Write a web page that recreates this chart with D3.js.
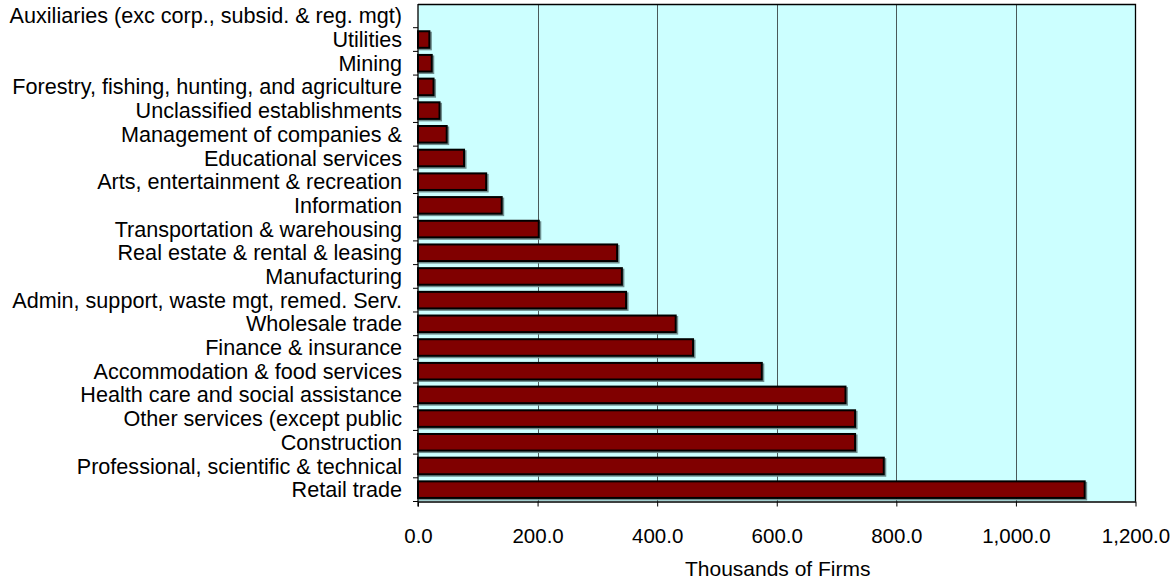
<!DOCTYPE html>
<html>
<head>
<meta charset="utf-8">
<script src="https://cdn.jsdelivr.net/npm/d3@7/dist/d3.min.js"></script>
<style>
  html, body { margin: 0; padding: 0; background: #ffffff; }
  svg { display: block; font-family: "Liberation Sans", Arial, sans-serif; }
</style>
</head>
<body>
<svg id="chart" width="1175" height="582"></svg>
<script>
// Industries, top to bottom
const categories = [
  "Auxiliaries (exc corp., subsid. & reg. mgt)",
  "Utilities",
  "Mining",
  "Forestry, fishing, hunting, and agriculture",
  "Unclassified establishments",
  "Management of companies &",
  "Educational services",
  "Arts, entertainment & recreation",
  "Information",
  "Transportation & warehousing",
  "Real estate & rental & leasing",
  "Manufacturing",
  "Admin, support, waste mgt, remed. Serv.",
  "Wholesale trade",
  "Finance & insurance",
  "Accommodation & food services",
  "Health care and social assistance",
  "Other services (except public",
  "Construction",
  "Professional, scientific & technical",
  "Retail trade"
];

// Number of firms, thousands
const firms = [
  0, 19, 23, 26, 36, 48, 77, 114, 140, 202, 333, 341, 348,
  431, 460, 575, 715, 731, 731, 779, 1115
];

const xTicks = [0, 200, 400, 600, 800, 1000, 1200];
const xTitle = "Thousands of Firms";

const rows = categories.map((c, i) => ({ name: c, value: firms[i] }));

const svg = d3.select("#chart");
const plot = { left: 418, right: 1135.5, top: 4, bottom: 501.5 };
const labelSize = 21.6;
const tickSize = 20.5;
const titleSize = 21;

const x = d3.scaleLinear().domain([0, 1200]).range([plot.left, plot.right]);
const y = d3.scaleBand().domain(categories).range([plot.top, plot.bottom])
  .paddingInner(0.3).paddingOuter(0.15);
const yBand = d3.scaleBand().domain(categories).range([plot.top, plot.bottom]);

// plot background
svg.append("rect")
  .attr("x", plot.left).attr("y", plot.top)
  .attr("width", plot.right - plot.left).attr("height", plot.bottom - plot.top)
  .attr("fill", "#ccffff");

// vertical gridlines
svg.append("g").selectAll("line")
  .data(xTicks.filter(t => t > 0 && t < 1200))
  .join("line")
  .attr("x1", d => Math.round(x(d)) + 0.5).attr("x2", d => Math.round(x(d)) + 0.5)
  .attr("y1", plot.top).attr("y2", plot.bottom)
  .attr("stroke", "#4a5a5a").attr("stroke-width", 1);

// bar shadows
svg.append("g").selectAll("rect")
  .data(rows.filter(d => d.value > 0))
  .join("rect")
  .attr("x", plot.left + 1.5)
  .attr("y", d => y(d.name) + 1.5)
  .attr("width", d => x(d.value) - plot.left)
  .attr("height", y.bandwidth())
  .attr("fill", "none")
  .attr("stroke", "#6f8f8f")
  .attr("stroke-width", 2);

// bars
svg.append("g").selectAll("rect")
  .data(rows.filter(d => d.value > 0))
  .join("rect")
  .attr("x", plot.left)
  .attr("y", d => y(d.name))
  .attr("width", d => x(d.value) - plot.left)
  .attr("height", y.bandwidth())
  .attr("fill", "#800000")
  .attr("stroke", "#000000")
  .attr("stroke-width", 2);

// frame: top and right edges
svg.append("path")
  .attr("d", `M${plot.left},${plot.top + 0.5}H${plot.right}V${plot.bottom}`)
  .attr("fill", "none").attr("stroke", "#000").attr("stroke-width", 1.3);

// x axis
const xAxis = d3.axisBottom(x).tickValues(xTicks).tickSize(5).tickSizeOuter(0)
  .tickFormat(d => d3.format(",.1f")(d));
const gx = svg.append("g").attr("transform", `translate(0,${plot.bottom})`).call(xAxis);
gx.select(".domain").attr("stroke", "#000").attr("stroke-width", 1.3);
gx.selectAll(".tick line").attr("stroke", "#000");
gx.selectAll(".tick text")
  .attr("y", 27)
  .attr("font-size", tickSize).attr("fill", "#000")
  .attr("font-family", "Liberation Sans, Arial, sans-serif");

// y axis: ticks on category boundaries
const boundaries = categories.map(c => yBand(c)).concat([plot.bottom]).slice(1);
const gy = svg.append("g");
gy.append("line")
  .attr("x1", plot.left).attr("x2", plot.left)
  .attr("y1", plot.top).attr("y2", plot.bottom + 5)
  .attr("stroke", "#000").attr("stroke-width", 1.3);
gy.selectAll("line.tk").data(boundaries).join("line")
  .attr("class", "tk")
  .attr("x1", plot.left - 5).attr("x2", plot.left)
  .attr("y1", d => d).attr("y2", d => d)
  .attr("stroke", "#000").attr("stroke-width", 1);
gy.selectAll("text").data(categories).join("text")
  .attr("x", plot.left - 16)
  .attr("y", d => yBand(d) + yBand.bandwidth() / 2)
  .attr("dy", "0.35em")
  .attr("text-anchor", "end")
  .attr("font-size", labelSize).attr("fill", "#000")
  .text(d => d);

// axis title
svg.append("text")
  .attr("x", (plot.left + plot.right) / 2 + 1)
  .attr("y", 576)
  .attr("text-anchor", "middle")
  .attr("font-size", titleSize).attr("fill", "#000")
  .text(xTitle);
</script>
</body>
</html>
